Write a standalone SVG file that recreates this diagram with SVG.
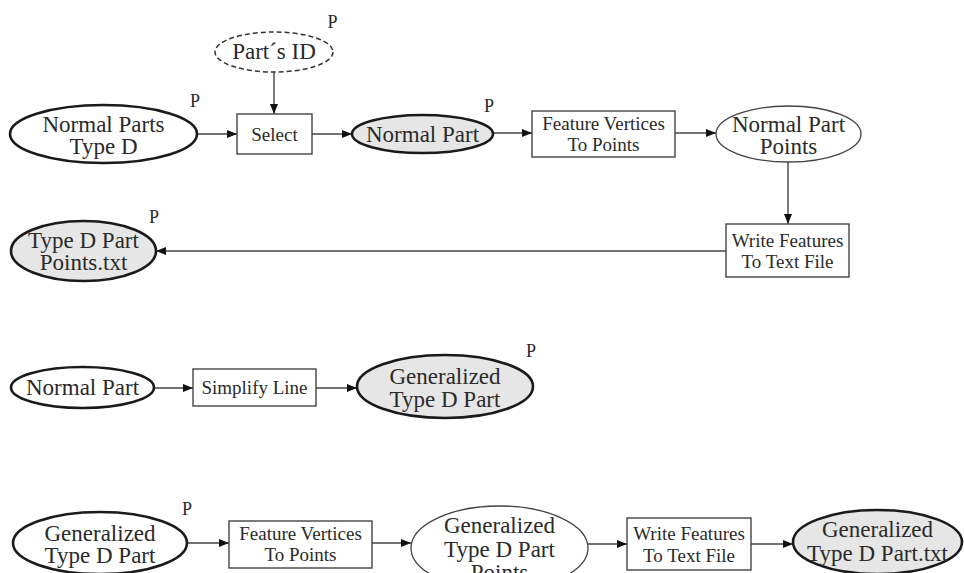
<svg xmlns="http://www.w3.org/2000/svg" width="964" height="573" viewBox="0 0 964 573">
  <style>
    text { font-family: "Liberation Serif", "Times New Roman", serif; fill: #2a2a2a; text-anchor: middle; }
    .el { font-size: 23px; }
    .bx { font-size: 19px; }
    .p { font-size: 18px; }
    .thick { stroke: #1a1a1a; stroke-width: 2.6; }
    .thin { stroke: #444; stroke-width: 1.3; }
    .white { fill: #ffffff; }
    .gray { fill: #e6e6e6; }
    .box { fill: #ffffff; stroke: #444; stroke-width: 1.4; }
    .dash { fill: #ffffff; stroke: #333; stroke-width: 1.5; stroke-dasharray: 5 3; }
    .conn line { stroke: #444; stroke-width: 1.4; marker-end: url(#arrow); }
  </style>
  <defs>
    <marker id="arrow" markerUnits="userSpaceOnUse" markerWidth="11" markerHeight="9" refX="10" refY="4" orient="auto">
      <path d="M0,0 L10,4 L0,8 z" fill="#111"/>
    </marker>
  </defs>
  <rect width="964" height="573" fill="#ffffff"/>

  <!-- connectors -->
  <g id="connectors" class="conn">
    <line x1="197" y1="134" x2="237" y2="134"/>
    <line x1="274" y1="72" x2="274" y2="114"/>
    <line x1="312" y1="134" x2="352" y2="134"/>
    <line x1="493" y1="133" x2="532" y2="133"/>
    <line x1="675" y1="133" x2="716" y2="133"/>
    <line x1="788" y1="162" x2="788" y2="224"/>
    <line x1="726" y1="251" x2="156" y2="251"/>
    <line x1="154" y1="388" x2="193" y2="388"/>
    <line x1="316" y1="388" x2="357" y2="388"/>
    <line x1="188" y1="543" x2="229" y2="543"/>
    <line x1="372" y1="543" x2="411" y2="543"/>
    <line x1="588" y1="544" x2="627" y2="544"/>
    <line x1="751" y1="544" x2="793" y2="544"/>
  </g>

  <!-- first workflow -->
  <g id="normal-parts-type-d">
    <ellipse cx="103.5" cy="134" rx="93.5" ry="29" class="white thick"/>
    <text class="el" x="103.5" y="132">Normal Parts</text>
    <text class="el" x="103.5" y="154">Type D</text>
    <text class="p" x="195" y="107">P</text>
  </g>
  <g id="parts-id">
    <ellipse cx="274" cy="52" rx="59" ry="20" class="dash"/>
    <text class="el" x="274" y="59">Part´s ID</text>
    <text class="p" x="332.5" y="28">P</text>
  </g>
  <g id="select">
    <rect x="237" y="114" width="75" height="40" class="box"/>
    <text class="bx" x="274.5" y="141">Select</text>
  </g>
  <g id="normal-part-1">
    <ellipse cx="422.5" cy="134" rx="70.5" ry="19" class="gray thick"/>
    <text class="el" x="422.5" y="142">Normal Part</text>
    <text class="p" x="489" y="112">P</text>
  </g>
  <g id="feature-vertices-1">
    <rect x="532" y="111" width="143" height="46" class="box"/>
    <text class="bx" x="603.5" y="130">Feature Vertices</text>
    <text class="bx" x="603.5" y="151">To Points</text>
  </g>
  <g id="normal-part-points">
    <ellipse cx="788.5" cy="134" rx="72.5" ry="28" class="white thin"/>
    <text class="el" x="788.5" y="132">Normal Part</text>
    <text class="el" x="788.5" y="154">Points</text>
  </g>
  <g id="write-features-1">
    <rect x="726" y="224" width="123" height="53" class="box"/>
    <text class="bx" x="787.5" y="247">Write Features</text>
    <text class="bx" x="787.5" y="268">To Text File</text>
  </g>
  <g id="type-d-part-points-txt">
    <ellipse cx="83.5" cy="251" rx="72.5" ry="30" class="gray thick"/>
    <text class="el" x="83.5" y="248">Type D Part</text>
    <text class="el" x="83.5" y="270">Points.txt</text>
    <text class="p" x="154" y="223">P</text>
  </g>

  <!-- second workflow -->
  <g id="normal-part-2">
    <ellipse cx="82.5" cy="387.5" rx="71.5" ry="20.5" class="white thick"/>
    <text class="el" x="82.5" y="395">Normal Part</text>
  </g>
  <g id="simplify-line">
    <rect x="193" y="369" width="123" height="37" class="box"/>
    <text class="bx" x="254.5" y="394">Simplify Line</text>
  </g>
  <g id="generalized-1">
    <ellipse cx="445" cy="386.5" rx="88" ry="31.5" class="gray thick"/>
    <text class="el" x="445" y="384">Generalized</text>
    <text class="el" x="445" y="407">Type D Part</text>
    <text class="p" x="531" y="357">P</text>
  </g>

  <!-- third workflow -->
  <g id="generalized-2">
    <ellipse cx="100" cy="543" rx="87" ry="31" class="white thick"/>
    <text class="el" x="100" y="541">Generalized</text>
    <text class="el" x="100" y="563">Type D Part</text>
    <text class="p" x="187" y="515">P</text>
  </g>
  <g id="feature-vertices-2">
    <rect x="229" y="521" width="143" height="47" class="box"/>
    <text class="bx" x="300.5" y="540">Feature Vertices</text>
    <text class="bx" x="300.5" y="561">To Points</text>
  </g>
  <g id="generalized-points">
    <ellipse cx="499.5" cy="548" rx="88.5" ry="42" class="white thin"/>
    <text class="el" x="499.5" y="533">Generalized</text>
    <text class="el" x="499.5" y="557">Type D Part</text>
    <text class="el" x="499.5" y="580">Points</text>
  </g>
  <g id="write-features-2">
    <rect x="627" y="518" width="124" height="52" class="box"/>
    <text class="bx" x="689" y="540">Write Features</text>
    <text class="bx" x="689" y="562">To Text File</text>
  </g>
  <g id="generalized-txt">
    <ellipse cx="877.5" cy="542" rx="84.5" ry="32" class="gray thick"/>
    <text class="el" x="877.5" y="537">Generalized</text>
    <text class="el" x="877.5" y="561">Type D Part.txt</text>
  </g>
</svg>
